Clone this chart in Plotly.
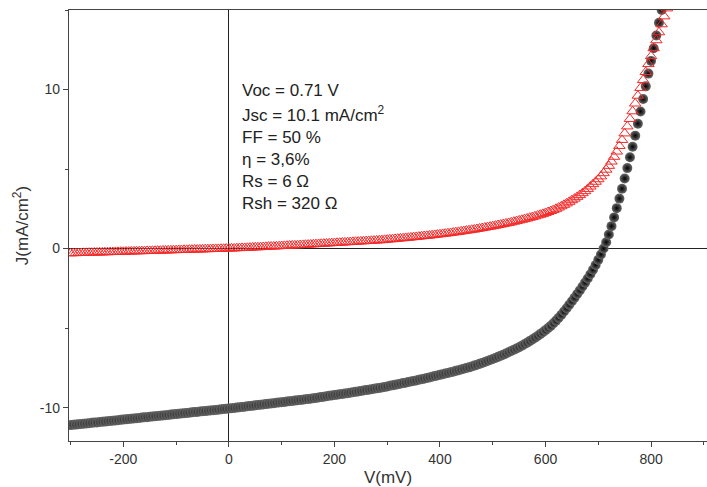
import plotly.graph_objects as go

# ---------------- data ----------------
V_SWEEP_MV = list(range(-300, 835, 5))  # measured voltage sweep, 5 mV steps

J_LIGHT = [
    -11.10, -11.08, -11.07, -11.05, -11.03, -11.01, -11.00, -10.98, -10.96, -10.94,
    -10.93, -10.91, -10.89, -10.88, -10.86, -10.84, -10.82, -10.81, -10.79, -10.77,
    -10.75, -10.74, -10.72, -10.70, -10.68, -10.67, -10.65, -10.63, -10.61, -10.60,
    -10.58, -10.56, -10.54, -10.53, -10.51, -10.49, -10.48, -10.46, -10.44, -10.42,
    -10.41, -10.39, -10.37, -10.35, -10.34, -10.32, -10.30, -10.28, -10.27, -10.25,
    -10.23, -10.22, -10.20, -10.18, -10.16, -10.15, -10.13, -10.11, -10.09, -10.08,
    -10.06,
    -10.04, -10.02, -10.00, -9.98, -9.96, -9.94, -9.92, -9.90, -9.88, -9.86,
    -9.84, -9.82, -9.80, -9.78, -9.76, -9.74, -9.72, -9.70, -9.68, -9.66,
    -9.64, -9.62, -9.60, -9.58, -9.56, -9.54, -9.52, -9.50, -9.48, -9.46,
    -9.44, -9.41, -9.39, -9.36, -9.34, -9.31, -9.29, -9.26, -9.24, -9.21,
    -9.19, -9.16, -9.14, -9.11, -9.09, -9.06, -9.03, -9.01, -8.98, -8.95,
    -8.93, -8.90, -8.87, -8.85, -8.82, -8.79, -8.76,
    -8.73, -8.70, -8.67, -8.63, -8.60, -8.57, -8.53, -8.50, -8.46, -8.43,
    -8.39, -8.36, -8.32, -8.29, -8.25,
    -8.21, -8.18, -8.14, -8.10, -8.06, -8.02, -7.98, -7.94, -7.90, -7.86,
    -7.82, -7.78, -7.74, -7.69, -7.65, -7.60, -7.56, -7.51, -7.47,
    -7.42, -7.36, -7.31, -7.25, -7.19, -7.13, -7.07, -7.01, -6.94, -6.88,
    -6.81, -6.74, -6.67, -6.60, -6.52, -6.44, -6.36, -6.28, -6.20,
    -6.11, -6.02, -5.92, -5.82, -5.72, -5.61, -5.50, -5.38, -5.26, -5.13,
    -5.00, -4.86,
    -4.70, -4.53, -4.35, -4.16, -3.96, -3.75, -3.53,
    -3.31, -3.09, -2.86, -2.63, -2.39, -2.14, -1.88, -1.61,
    -1.33, -1.03, -0.71, -0.37, 0.00,
    0.40, 0.88, 1.41, 1.96, 2.54, 3.14, 3.76, 4.40, 5.06, 5.74, 6.40,
    7.10, 7.85, 8.62, 9.40, 10.20, 11.00, 11.80, 12.60, 13.40, 14.20, 15.00,
]

J_DARK = [
    -0.30, -0.29, -0.29, -0.28, -0.28, -0.27, -0.27, -0.26, -0.26, -0.25,
    -0.25, -0.24, -0.24, -0.23, -0.23, -0.22, -0.22, -0.21, -0.21, -0.20,
    -0.20, -0.19, -0.19, -0.18, -0.18, -0.17, -0.17, -0.16, -0.16, -0.15,
    -0.15, -0.14, -0.14, -0.13, -0.13, -0.12, -0.12, -0.11, -0.11, -0.10,
    -0.10, -0.09, -0.09, -0.08, -0.08, -0.07, -0.07, -0.06, -0.06, -0.05,
    -0.05, -0.04, -0.04, -0.03, -0.03, -0.02, -0.02, -0.01, -0.01, 0.00,
    0.00,
    0.01, 0.01, 0.02, 0.03, 0.04, 0.04, 0.05, 0.06, 0.07, 0.08,
    0.08, 0.09, 0.10, 0.11, 0.12, 0.13, 0.13, 0.14, 0.15, 0.16,
    0.17, 0.18, 0.19, 0.20, 0.20, 0.21, 0.22, 0.23, 0.24, 0.25,
    0.26, 0.27, 0.28, 0.29, 0.30, 0.31, 0.32, 0.33, 0.34, 0.35,
    0.36, 0.37, 0.38, 0.39, 0.40, 0.41, 0.42, 0.43, 0.44, 0.45,
    0.46, 0.47, 0.48, 0.49, 0.50, 0.51, 0.52,
    0.53, 0.55, 0.56, 0.58, 0.59, 0.61, 0.62, 0.64, 0.65, 0.67,
    0.68, 0.70, 0.72, 0.73, 0.75, 0.77, 0.79, 0.80, 0.82,
    0.84, 0.86, 0.88, 0.90, 0.92, 0.94, 0.96, 0.98, 1.01, 1.03,
    1.05, 1.08, 1.10, 1.13, 1.15, 1.18, 1.20, 1.23, 1.26,
    1.29, 1.32, 1.35, 1.38, 1.41, 1.44, 1.48, 1.51, 1.54, 1.58,
    1.61, 1.65, 1.69, 1.73, 1.77, 1.81, 1.85, 1.89, 1.94,
    1.98, 2.03, 2.08, 2.13, 2.18, 2.24, 2.30, 2.36, 2.43, 2.50,
    2.58, 2.66, 2.75, 2.84, 2.94, 3.04, 3.14, 3.25,
    3.36, 3.48, 3.61, 3.75, 3.90,
    4.05, 4.20, 4.36, 4.54, 4.74, 4.96, 5.20, 5.47, 5.77, 6.10,
    6.45, 6.83, 7.24, 7.68, 8.15, 8.63, 9.12, 9.61, 10.10, 10.60,
    11.10, 11.60, 12.10, 12.60, 13.10, 13.60, 14.10, 14.60, 15.10,
]

X_TICKS = [-200, 0, 200, 400, 600, 800]
X_TICK_LABELS = ["-200", "0", "200", "400", "600", "800"]
Y_TICKS = [-10, 0, 10]
Y_TICK_LABELS = ["-10", "0", "10"]

PARAM_LINES = [
    "Voc = 0.71 V",
    "Jsc = 10.1 mA/cm<sup>2</sup>",
    "FF = 50 %",
    "η = 3,6%",
    "Rs = 6 Ω",
    "Rsh = 320 Ω",
]

# ---------------- figure ----------------
FONT = "Liberation Sans, Arial, sans-serif"

fig = go.Figure()

fig.add_trace(go.Scatter(
    x=V_SWEEP_MV[:len(J_LIGHT)], y=J_LIGHT, mode="markers",
    marker=dict(symbol="circle", size=10, color="#6a6a6a",
                gradient=dict(type="radial", color="#000000"),
                line=dict(width=0)),
    showlegend=False, hoverinfo="skip",
))

fig.add_trace(go.Scatter(
    x=V_SWEEP_MV[:len(J_DARK)], y=J_DARK, mode="markers",
    marker=dict(symbol="triangle-up-open", size=10, color="#f52a2a",
                line=dict(width=1)),
    showlegend=False, hoverinfo="skip",
))

# plot-area geometry in pixels (for placing the parameter text)
PLOT_TOP, PLOT_BOTTOM, PLOT_LEFT, PLOT_RIGHT = 10, 441, 69, 707
line_centres = [91, 114, 137, 159, 181, 203]
for txt, yc in zip(PARAM_LINES, line_centres):
    fig.add_annotation(
        text=txt, xref="paper", yref="paper",
        x=(240 - PLOT_LEFT) / (PLOT_RIGHT - PLOT_LEFT),
        y=(PLOT_BOTTOM - yc) / (PLOT_BOTTOM - PLOT_TOP),
        xanchor="left", yanchor="middle", showarrow=False,
        font=dict(family=FONT, size=17, color="#222222"),
    )

axis_common = dict(
    showgrid=False, showline=True, linecolor="#444444", linewidth=1.3,
    mirror=True, ticks="outside", ticklen=5, tickwidth=1, tickcolor="#444444",
    zeroline=True, zerolinecolor="#222222", zerolinewidth=1.3,
    tickfont=dict(family=FONT, size=14, color="#333333"),
)

fig.update_xaxes(
    range=[-303, 906], tickmode="array", tickvals=X_TICKS, ticktext=X_TICK_LABELS,
    minor=dict(dtick=100, tick0=0, ticks="outside", ticklen=3, tickcolor="#444444"),
    title=dict(text="V(mV)", font=dict(family=FONT, size=17, color="#333333"), standoff=5),
    **axis_common,
)
fig.update_yaxes(
    range=[-12.1, 15], tickmode="array", tickvals=Y_TICKS, ticktext=Y_TICK_LABELS,
    minor=dict(dtick=5, tick0=0, ticks="outside", ticklen=3, tickcolor="#444444"),
    title=dict(text="J(mA/cm<sup>2</sup>)", font=dict(family=FONT, size=17, color="#333333"), standoff=6),
    **axis_common,
)

fig.update_layout(
    width=707, height=487,
    margin=dict(l=PLOT_LEFT, r=707 - PLOT_RIGHT, t=PLOT_TOP, b=487 - PLOT_BOTTOM),
    paper_bgcolor="white", plot_bgcolor="white",
)

fig.write_html("out.html")
